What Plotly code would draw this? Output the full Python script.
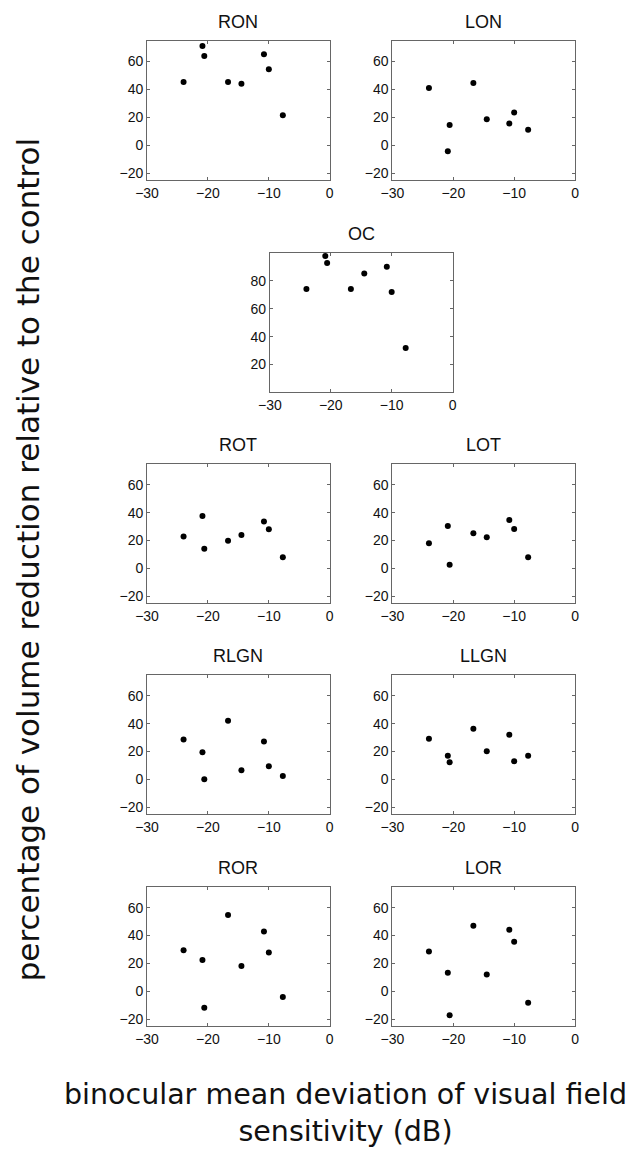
import plotly.graph_objects as go

# shared x values: binocular mean deviation (dB)
md = [-24.0, -20.9, -20.6, -16.7, -14.5, -10.8, -10.0, -7.7]

RON = [45.3, 71.1, 64.0, 45.3, 44.1, 65.2, 54.5, 21.6]
LON = [41.0, -4.3, 14.5, 44.6, 18.7, 15.7, 23.5, 11.1]
OC = [74.2, 97.9, 92.9, 74.2, 85.4, 90.2, 72.0, 31.9]
ROT = [22.8, 37.6, 14.1, 19.9, 24.0, 33.6, 28.1, 7.9]
LOT = [18.0, 30.5, 2.6, 25.2, 22.3, 34.8, 28.3, 7.9]
RLGN = [28.7, 19.5, 0.2, 42.2, 6.7, 27.2, 9.4, 2.4]
LLGN = [29.2, 17.1, 12.3, 36.4, 20.2, 32.0, 13.0, 17.1]
ROR = [29.5, 22.5, -11.9, 54.7, 18.2, 42.9, 27.8, -4.1]
LOR = [28.6, 13.3, -17.2, 47.0, 12.1, 44.1, 35.6, -8.2]

names = ["RON", "LON", "OC", "ROT", "LOT", "RLGN", "LLGN", "ROR", "LOR"]
series = [RON, LON, OC, ROT, LOT, RLGN, LLGN, ROR, LOR]

x_ticks = [-30, -20, -10, 0]
y_ticks = [-20, 0, 20, 40, 60]
oc_y_ticks = [20, 40, 60, 80]

W, H = 638, 1170
OFF = 8  # page body margin of the html page


def fx(px):
    return (px - OFF) / W


def fy(py):
    return 1 - (py - OFF) / H


# panel boxes in screen pixels: left, right, top, bottom
L1, R1 = 138.3, 325.7
L2, R2 = 390.0, 577.3
boxes = [
    (L1, R1, 40.7, 180.3),
    (L2, R2, 40.7, 180.3),
    (264.3, 451.7, 253.3, 392.7),
    (L1, R1, 464.3, 603.7),
    (L2, R2, 464.3, 603.7),
    (L1, R1, 675.5, 815.0),
    (L2, R2, 675.5, 815.0),
    (L1, R1, 887.5, 1027.0),
    (L2, R2, 887.5, 1027.0),
]

fig = go.Figure()
layout = dict(
    width=W, height=H,
    margin=dict(l=0, r=0, t=0, b=0),
    paper_bgcolor="white", plot_bgcolor="white",
    showlegend=False,
)
annotations = []
tickfont = dict(family="Liberation Sans, Arial, sans-serif", size=14, color="#111")
axcol = "#666"

for i, (name, ys, box) in enumerate(zip(names, series, boxes)):
    k = "" if i == 0 else str(i + 1)
    l, r, t, b = box
    fig.add_trace(go.Scatter(
        x=md, y=ys, mode="markers",
        marker=dict(color="black", size=6),
        xaxis="x" + k, yaxis="y" + k,
    ))
    is_oc = name == "OC"
    layout["xaxis" + k] = dict(
        domain=[fx(l), fx(r)], anchor="y" + k,
        range=[-30, 0], tickvals=x_ticks,
        showline=True, mirror="ticks", linecolor=axcol, linewidth=1,
        ticks="inside", ticklen=3, tickcolor=axcol,
        showgrid=False, zeroline=False, tickfont=tickfont,
    )
    layout["yaxis" + k] = dict(
        domain=[fy(b), fy(t)], anchor="x" + k,
        range=[0, 100] if is_oc else [-25, 75],
        tickvals=oc_y_ticks if is_oc else y_ticks,
        showline=True, mirror="ticks", linecolor=axcol, linewidth=1,
        ticks="inside", ticklen=3, tickcolor=axcol,
        showgrid=False, zeroline=False, tickfont=tickfont,
    )
    annotations.append(dict(
        text=name, x=fx((l + r) / 2), y=fy(t - 19),
        xref="paper", yref="paper", xanchor="center", yanchor="middle",
        showarrow=False,
        font=dict(family="Liberation Sans, Arial, sans-serif", size=18, color="#111"),
    ))

annotations.append(dict(
    text="percentage of volume reduction relative to the control",
    x=fx(16), y=fy(560), xref="paper", yref="paper",
    xanchor="center", yanchor="middle", textangle=-90, showarrow=False,
    font=dict(family="DejaVu Sans, sans-serif", size=31, color="#111"),
))
annotations.append(dict(
    text="binocular mean deviation of visual field<br>sensitivity (dB)",
    x=fx(342), y=fy(1114), xref="paper", yref="paper",
    xanchor="center", yanchor="middle", showarrow=False,
    font=dict(family="DejaVu Sans, sans-serif", size=28.5, color="#111"),
))
layout["annotations"] = annotations
fig.update_layout(**layout)
fig.write_html("out.html")
